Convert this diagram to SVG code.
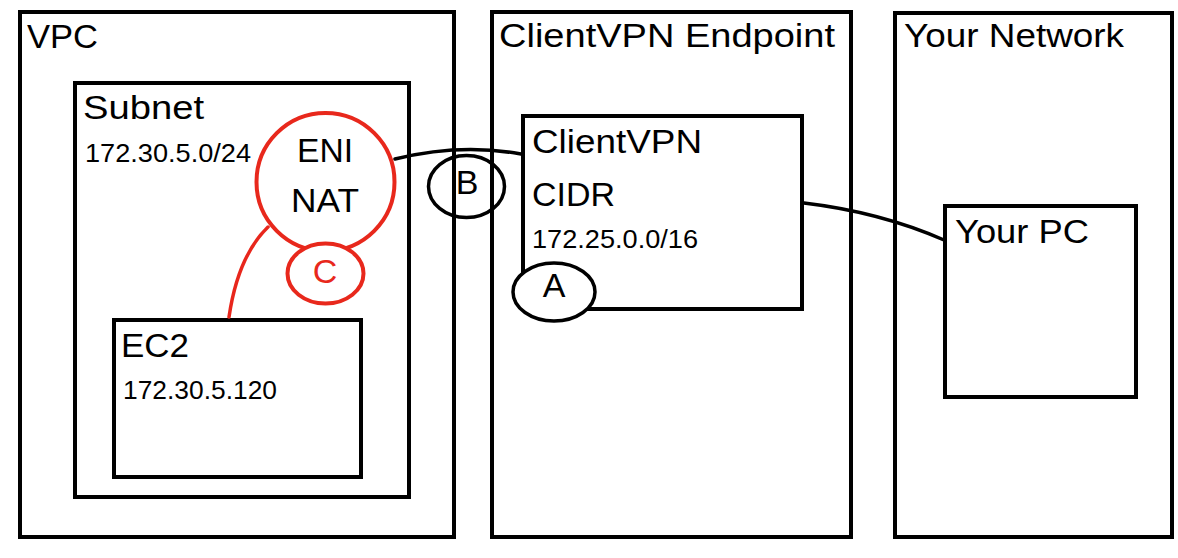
<svg xmlns="http://www.w3.org/2000/svg" width="1178" height="558" viewBox="0 0 1178 558">
<style>
.box{fill:none;stroke:#000;stroke-width:4}
.t{font-family:"Liberation Sans",Arial,sans-serif;fill:#000}
.lg{font-size:34px}
.sm{font-size:25px}
.red{fill:#fff;stroke:#e8281c;stroke-width:4}
.rt{fill:#e8281c}
.blk{fill:none;stroke:#000;stroke-width:3.5}
.blkw{fill:#fff;stroke:#000;stroke-width:3.5}
.conn{fill:none;stroke-linecap:round}
</style>
<defs>
<filter id="rough" x="-5%" y="-20%" width="110%" height="140%">
<feTurbulence type="fractalNoise" baseFrequency="0.9" numOctaves="1" seed="3" result="n"/>
<feDisplacementMap in="SourceGraphic" in2="n" scale="1.6"/>
</filter>
</defs>
<rect width="1178" height="558" fill="#fff"/>
<g id="vpc">
<rect class="box" x="20" y="12" width="434" height="525"/>
<text class="t lg" x="27" y="48" textLength="71" lengthAdjust="spacingAndGlyphs">VPC</text>
</g>
<g id="subnet">
<rect class="box" x="75" y="83" width="334" height="414"/>
<text class="t lg" x="83" y="119" textLength="121" lengthAdjust="spacingAndGlyphs">Subnet</text>
<text class="t sm" x="85" y="162" textLength="166" lengthAdjust="spacingAndGlyphs">172.30.5.0/24</text>
</g>
<g id="ec2">
<rect class="box" x="114" y="320" width="247" height="157"/>
<text class="t lg" x="121" y="357" textLength="68" lengthAdjust="spacingAndGlyphs">EC2</text>
<text class="t sm" x="123" y="399" textLength="154" lengthAdjust="spacingAndGlyphs">172.30.5.120</text>
</g>
<g id="clientvpn-endpoint">
<rect class="box" x="492" y="12" width="359" height="525"/>
<text class="t lg" x="499" y="47" textLength="336" lengthAdjust="spacingAndGlyphs">ClientVPN Endpoint</text>
</g>
<g id="clientvpn-cidr">
<rect class="box" x="523" y="116" width="279" height="193"/>
<text class="t lg" x="532" y="153" textLength="170" lengthAdjust="spacingAndGlyphs">ClientVPN</text>
<text class="t lg" x="532" y="206" textLength="83" lengthAdjust="spacingAndGlyphs">CIDR</text>
<text class="t sm" x="532" y="248" textLength="166" lengthAdjust="spacingAndGlyphs">172.25.0.0/16</text>
</g>
<g id="your-network">
<rect class="box" x="895" y="13" width="277" height="524"/>
<text class="t lg" x="904" y="47" textLength="220" lengthAdjust="spacingAndGlyphs">Your Network</text>
</g>
<g id="your-pc">
<rect class="box" x="945" y="206" width="191" height="191"/>
<text class="t lg" x="955" y="243" textLength="134" lengthAdjust="spacingAndGlyphs">Your PC</text>
</g>
<g id="connectors" class="conn" filter="url(#rough)">
<path d="M395,159 Q460,143 521,154" stroke="#000" stroke-width="3.5"/>
<path d="M804,203 Q880,212 944,240" stroke="#000" stroke-width="3.5"/>
<path d="M268,227 Q238,256 229,317" stroke="#e8281c" stroke-width="3.5"/>
</g>
<g id="eni-nat">
<circle class="red" cx="325.5" cy="182" r="69"/>
<text class="t lg" x="325" y="162" text-anchor="middle" textLength="56" lengthAdjust="spacingAndGlyphs">ENI</text>
<text class="t lg" x="325" y="212" text-anchor="middle" textLength="68" lengthAdjust="spacingAndGlyphs">NAT</text>
</g>
<g id="c">
<ellipse class="red" cx="325.5" cy="273.5" rx="38" ry="30"/>
<text class="t lg rt" x="325" y="283" text-anchor="middle">C</text>
</g>
<g id="b">
<ellipse class="blk" cx="466.5" cy="186.5" rx="38" ry="31"/>
<text class="t lg" x="467" y="194" text-anchor="middle">B</text>
</g>
<g id="a">
<ellipse class="blkw" cx="554" cy="292" rx="41" ry="29"/>
<text class="t lg" x="554" y="297" text-anchor="middle">A</text>
</g>
</svg>
